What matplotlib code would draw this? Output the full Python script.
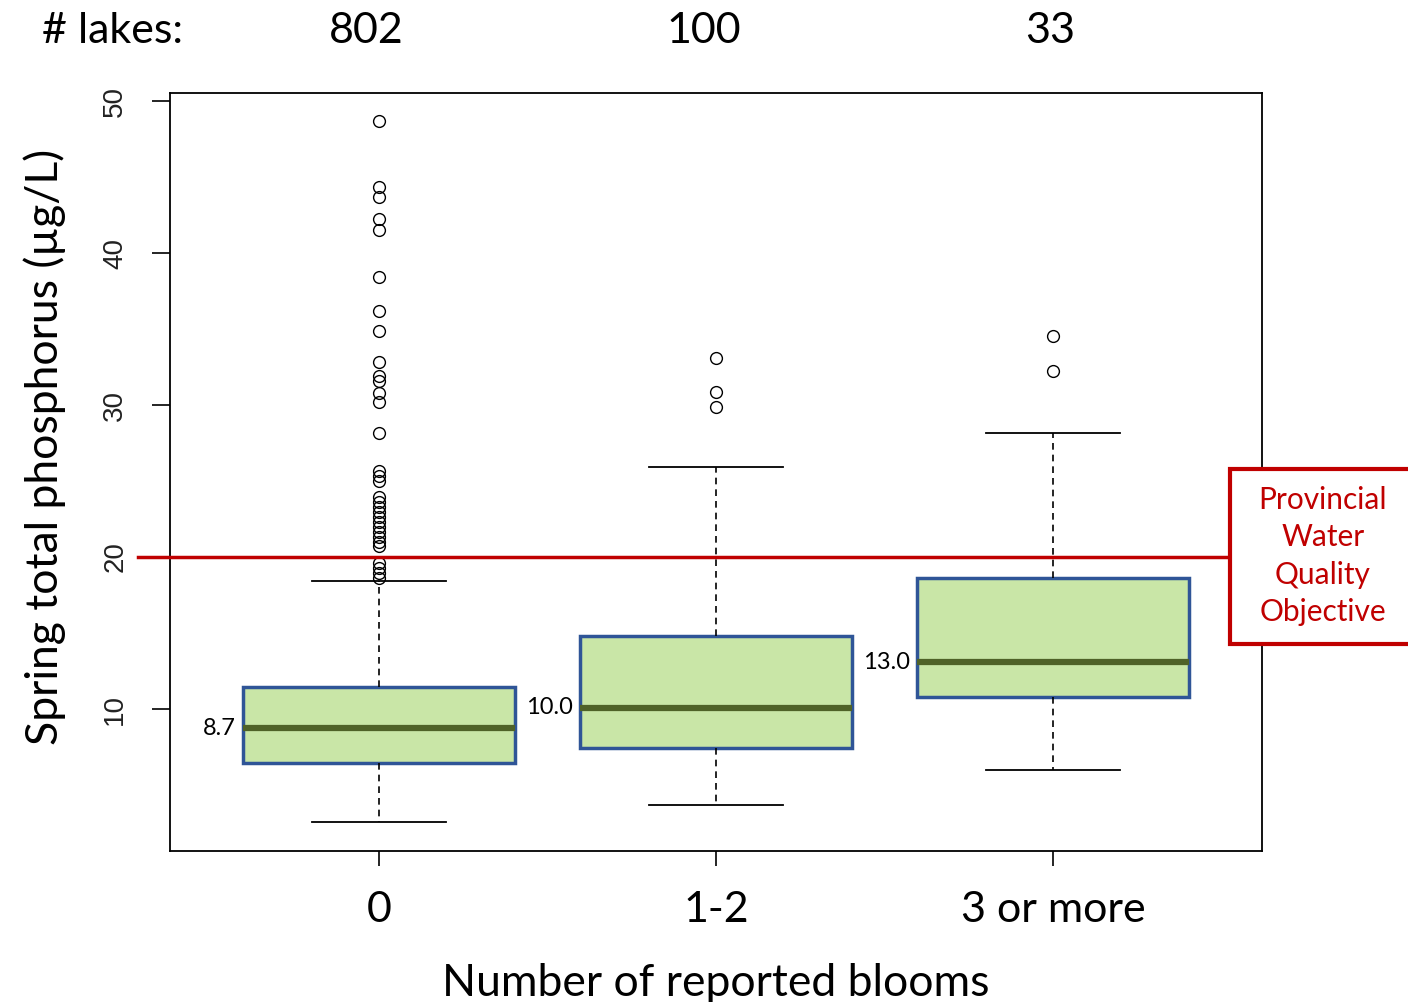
import matplotlib.pyplot as plt
from matplotlib.patches import Rectangle

# data
groups = ['0', '1-2', '3 or more']
n_lakes = ['802', '100', '33']
q1 = [6.45, 7.43, 10.79]
med = [8.75, 10.07, 13.09]
q3 = [11.45, 14.8, 18.62]
wlo = [2.57, 3.68, 5.99]
whi = [18.42, 25.92, 28.16]
med_labels = ['8.7', '10.0', '13.0']
out0 = [48.68, 44.34, 43.68, 42.24, 41.51, 38.42, 36.18, 34.87, 32.83, 31.91,
        31.58, 30.79, 30.20, 28.16, 25.66, 25.33, 25.00, 23.95, 23.62, 23.29,
        22.96, 22.63, 22.30, 21.97, 21.64, 21.32, 20.99, 20.72, 19.61, 19.28,
        18.95, 18.62]
out1 = [33.09, 30.86, 29.87]
out2 = [34.54, 32.24]
fliers = [out0, out1, out2]
objective = 20

calib = ['Lato', 'DejaVu Sans']

fig = plt.figure(figsize=(14.08, 10.02), dpi=100)
ax = fig.add_axes([0.1207, 0.1507, 0.7756, 0.7565])

stats = []
for i in range(3):
    stats.append(dict(med=med[i], q1=q1[i], q3=q3[i], whislo=wlo[i], whishi=whi[i],
                      fliers=fliers[i], label=groups[i]))

ax.bxp(stats, positions=[1, 2, 3], widths=0.806, capwidths=0.4, patch_artist=True,
       boxprops=dict(facecolor='#c9e6a7', edgecolor='#2f5597', linewidth=2.5),
       medianprops=dict(color='#4f6228', linewidth=4.5),
       whiskerprops=dict(color='black', linewidth=1.2, linestyle=(0, (4, 3))),
       capprops=dict(color='black', linewidth=1.3),
       flierprops=dict(marker='o', markerfacecolor='none', markeredgecolor='black',
                       markersize=8.5, markeredgewidth=1.0))

ax.set_xlim(0.38, 3.62)
ax.set_ylim(0.66, 50.53)
ax.set_yticks([10, 20, 30, 40, 50])
ax.set_yticklabels(['10', '20', '30', '40', '50'], rotation=90, va='center',
                   family='Liberation Sans', fontsize=20, color='#222222')
ax.set_xticks([1, 2, 3])
ax.set_xticklabels(groups, family=calib, fontsize=31)
ax.tick_params(axis='y', length=13, width=1.2, pad=17)
ax.tick_params(axis='x', length=11, width=1.2, pad=18)
for s in ax.spines.values():
    s.set_linewidth(1.3)

ax.set_xlabel('Number of reported blooms', family=calib, fontsize=32, labelpad=24)
ax.set_ylabel('Spring total phosphorus (µg/L)', family=calib, fontsize=32)
ax.yaxis.set_label_coords(-0.0954, 0.533)

# median labels
for i in range(3):
    ax.text(i + 1 - 0.425, med[i], med_labels[i], ha='right', va='center',
            family=calib, fontsize=17)

# objective line
ax.plot([-0.029, 0.9707], [objective, objective], transform=ax.get_yaxis_transform(),
        color='#c00000', linewidth=2.5, clip_on=False, zorder=6)

fig.patches.append(Rectangle((0.8736, 0.3573), 0.2, 0.1746, transform=fig.transFigure,
                             facecolor='white', edgecolor='#c00000', linewidth=3))
fig.text(0.9396, 0.4451, 'Provincial\nWater\nQuality\nObjective', ha='center', va='center',
         color='#c00000', family=calib, fontsize=21.5, linespacing=1.4)

# number of lakes
fig.text(0.080, 0.969, '# lakes:', ha='center', va='center', family=calib, fontsize=31)
for xf, t in zip([0.26, 0.50, 0.746], n_lakes):
    fig.text(xf, 0.969, t, ha='center', va='center', family=calib, fontsize=31)

fig.savefig('out.png', dpi=100)
